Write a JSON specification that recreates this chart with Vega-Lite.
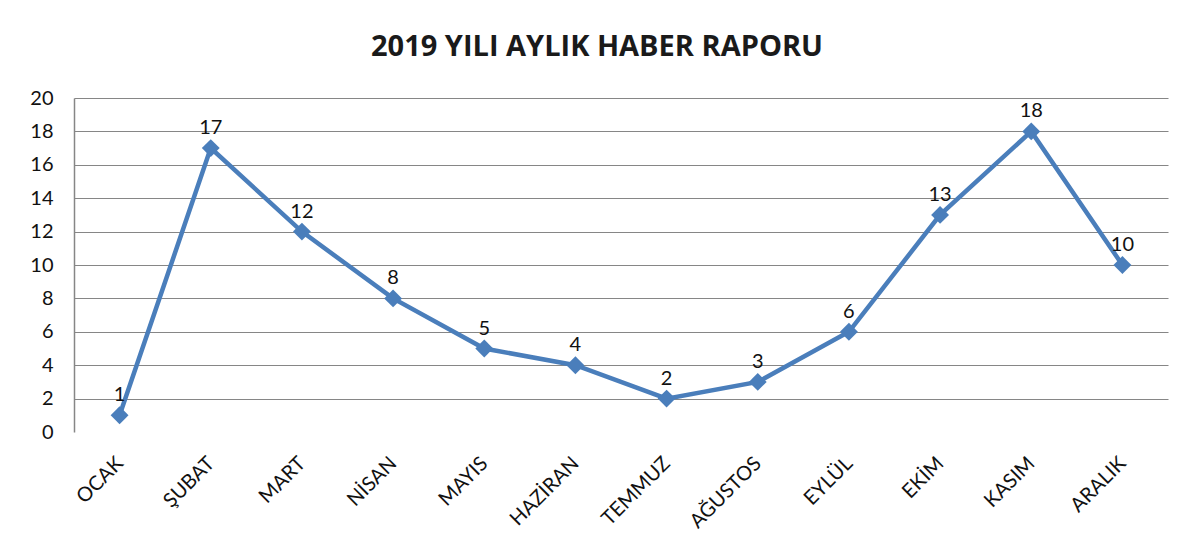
{
  "$schema": "https://vega.github.io/schema/vega-lite/v6.json",
  "width": 1094,
  "height": 334,
  "autosize": {"type": "none"},
  "padding": {"left": 74, "top": 98, "right": 26, "bottom": 122},
  "background": "white",
  "title": {
    "text": "2019 YILI AYLIK HABER RAPORU",
    "font": "Open Sans",
    "fontSize": 29,
    "fontWeight": "bold",
    "color": "#1a1a1a",
    "anchor": "middle",
    "frame": "group",
    "dx": -24,
    "offset": 26
  },
  "config": {"view": {"stroke": null}},
  "data": {
    "values": [
      {"ay": "OCAK", "haber": 1},
      {"ay": "ŞUBAT", "haber": 17},
      {"ay": "MART", "haber": 12},
      {"ay": "NİSAN", "haber": 8},
      {"ay": "MAYIS", "haber": 5},
      {"ay": "HAZİRAN", "haber": 4},
      {"ay": "TEMMUZ", "haber": 2},
      {"ay": "AĞUSTOS", "haber": 3},
      {"ay": "EYLÜL", "haber": 6},
      {"ay": "EKİM", "haber": 13},
      {"ay": "KASIM", "haber": 18},
      {"ay": "ARALIK", "haber": 10}
    ]
  },
  "encoding": {
    "x": {
      "field": "ay",
      "type": "nominal",
      "sort": null,
      "scale": {"type": "point", "padding": 0.5},
      "axis": {
        "title": null,
        "domain": false,
        "ticks": false,
        "grid": false,
        "labelAngle": -45,
        "labelAlign": "right",
        "labelBaseline": "middle",
        "labelPadding": 28,
        "labelFont": "Lato",
        "labelFontSize": 20,
        "labelColor": "#111111"
      }
    },
    "y": {
      "field": "haber",
      "type": "quantitative",
      "scale": {"domain": [0, 20], "nice": false},
      "axis": {
        "title": null,
        "values": [0, 2, 4, 6, 8, 10, 12, 14, 16, 18, 20],
        "domain": true,
        "domainColor": "#868686",
        "domainWidth": 1.5,
        "ticks": false,
        "grid": true,
        "gridColor": "#868686",
        "gridWidth": 1.2,
        "gridOpacity": {"condition": {"test": "datum.value === 0", "value": 0}, "value": 1},
        "labelPadding": 21,
        "labelFont": "Lato",
        "labelFontSize": 20,
        "labelColor": "#111111"
      }
    }
  },
  "layer": [
    {
      "mark": {
        "type": "line",
        "color": "#4A7EBB",
        "strokeWidth": 4.5,
        "point": {"shape": "diamond", "size": 320, "filled": true, "color": "#4A7EBB", "opacity": 1}
      }
    },
    {
      "mark": {"type": "text", "dy": -20, "font": "Lato", "fontSize": 20, "color": "#111111"},
      "encoding": {"text": {"field": "haber", "type": "quantitative"}}
    }
  ]
}
